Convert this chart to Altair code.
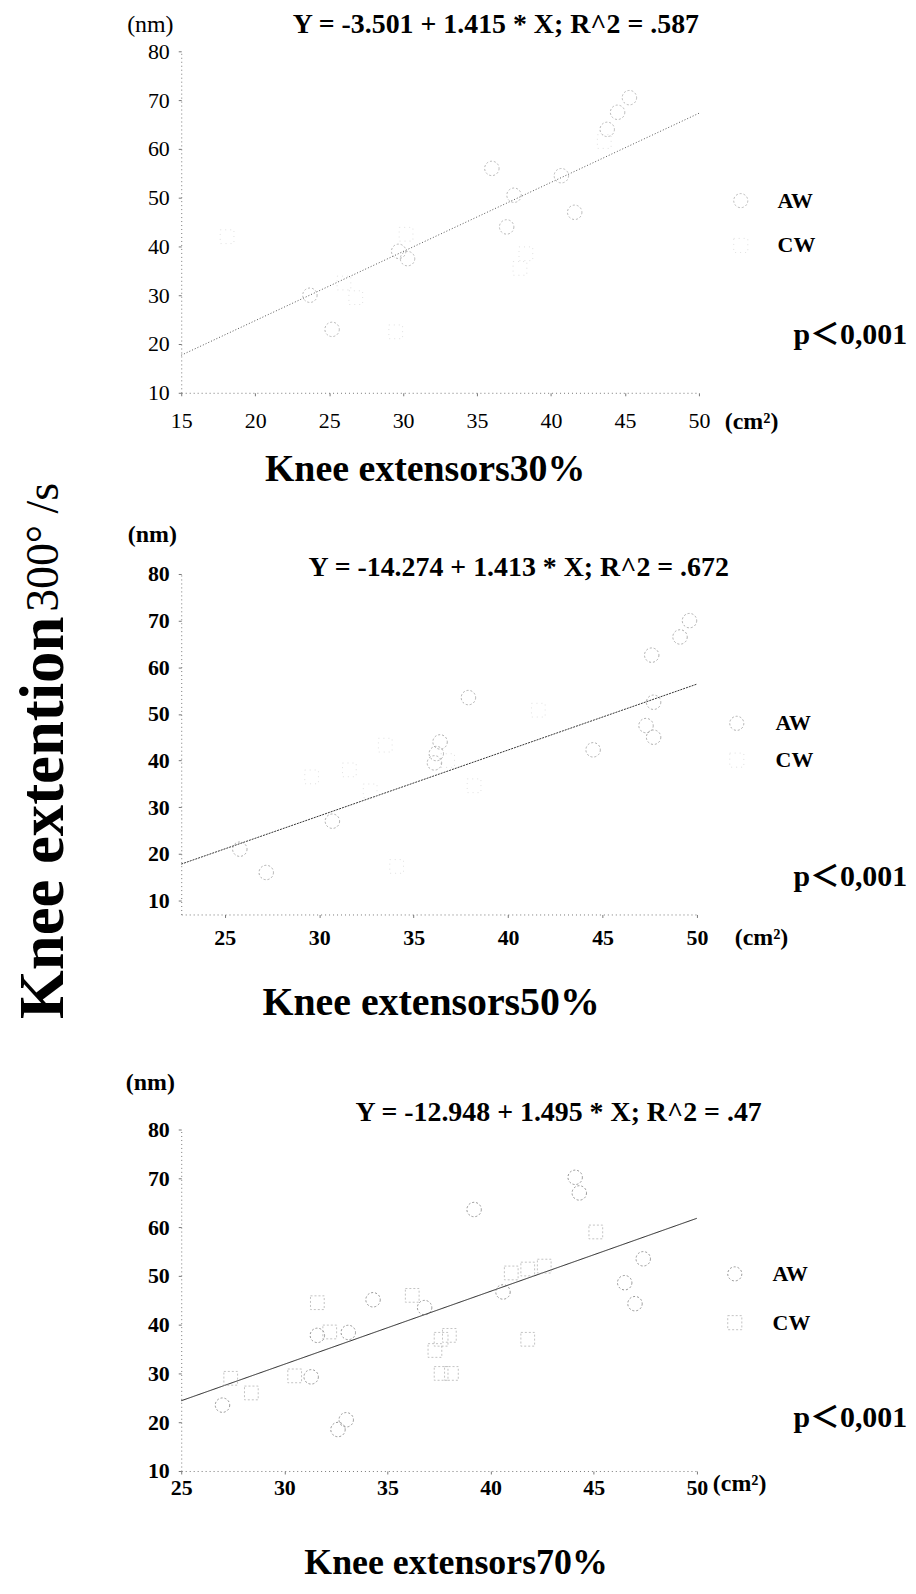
import altair as alt
import pandas as pd

# ---------------- data ----------------
# Panel 1: Knee extensors 30%
p1_aw_x = [25.2, 23.7, 29.7, 30.3, 36.0, 37.5, 37.0, 40.7, 41.6, 43.8, 44.5, 45.3]
p1_aw_y = [23.0, 30.0, 39.0, 37.5, 56.0, 50.5, 44.0, 54.5, 47.0, 64.0, 67.5, 70.5]
p1_cw_x = [18.1, 26.0, 29.5, 26.8, 30.2, 37.9, 38.3, 43.6]
p1_cw_y = [42.0, 32.5, 22.5, 29.5, 42.5, 35.5, 38.5, 61.5]
p1_line_x = [15.0, 50.0]
p1_line_y = [17.7, 67.3]

# Panel 2: Knee extensors 50%
p2_aw_x = [25.8, 27.2, 30.7, 36.2, 36.4, 36.1, 37.9, 44.5, 47.6, 47.7, 47.3, 47.7, 49.1, 49.6]
p2_aw_y = [21.0, 16.0, 27.0, 41.5, 44.0, 39.5, 53.5, 42.3, 62.6, 52.5, 47.5, 45.0, 66.5, 70.0]
p2_cw_x = [29.6, 31.6, 32.7, 33.5, 34.1, 38.2, 41.6, 36.8]
p2_cw_y = [36.5, 38.0, 33.5, 43.3, 17.3, 34.6, 50.8, 40.0]
p2_line_x = [22.7, 50.0]
p2_line_y = [17.8, 56.4]

# Panel 3: Knee extensors 70%
p3_aw_x = [27.0, 31.3, 32.6, 33.0, 31.6, 33.1, 34.3, 36.8, 39.2, 40.6, 44.1, 44.3, 47.4, 46.5, 47.0]
p3_aw_y = [23.5, 29.3, 18.5, 20.5, 37.8, 38.4, 45.1, 43.5, 63.6, 46.7, 70.2, 67.0, 53.5, 48.6, 44.3]
p3_cw_x = [27.4, 28.4, 30.5, 32.2, 31.6, 36.2, 37.3, 37.6, 37.6, 38.0, 38.1, 41.0, 41.8, 42.6, 41.8, 45.1]
p3_cw_y = [29.0, 26.0, 29.5, 38.5, 44.5, 46.0, 34.7, 30.0, 37.0, 37.8, 30.0, 50.6, 51.4, 52.0, 37.0, 59.0]
p3_line_x = [25.0, 50.0]
p3_line_y = [24.4, 61.8]

y_ticks = [10, 20, 30, 40, 50, 60, 70, 80]
x_ticks_1 = [15, 20, 25, 30, 35, 40, 45, 50]
x_ticks_23 = [25, 30, 35, 40, 45, 50]

equations = ["Y = -3.501 + 1.415 * X; R^2 = .587",
             "Y = -14.274 + 1.413 * X; R^2 = .672",
             "Y = -12.948 + 1.495 * X; R^2 = .47"]
x_titles = ["Knee extensors30%", "Knee extensors50%", "Knee extensors70%"]
groups = ["AW", "CW"]
p_text = "p＜0,001"
unit_y = "(nm)"
unit_x = "(cm²)"
y_title_main = "Knee extention"
y_title_tail = "300° /s"

SERIF = "Liberation Serif, Times New Roman, Noto Sans CJK JP, serif"
W = 520


def one(text, x, y, size, weight="bold", align="center", angle=0, color="black"):
    kw = dict(text=text, font=SERIF, fontSize=size, fontWeight=weight,
              align=align, baseline="middle", color=color)
    if angle:
        kw["angle"] = angle
    return alt.Chart(alt.Data(values=[{}])).mark_text(**kw).encode(
        x=alt.value(x), y=alt.value(y))


def sym(shape, x, y, color, dash):
    return alt.Chart(alt.Data(values=[{}])).mark_point(
        shape=shape, size=200, filled=False, color=color, strokeWidth=1,
        strokeDash=dash).encode(x=alt.value(x), y=alt.value(y))


def panel(aw_x, aw_y, cw_x, cw_y, lx, ly, xdom, ydom, xticks, height, cfg):
    weight = cfg["weight"]
    xs = alt.Scale(domain=xdom, nice=False, zero=False)
    ys = alt.Scale(domain=ydom, nice=False, zero=False)
    xax = alt.Axis(values=xticks, title=None, grid=False, labelFont=SERIF,
                   labelFontSize=22, labelFontWeight=weight, labelColor="black",
                   domainColor="#777", domainDash=[1, 3], tickColor="#777",
                   tickSize=3, labelPadding=cfg["xpad"], labelFlush=False,
                   labelOverlap=False, labelBound=False)
    yax = alt.Axis(values=y_ticks, title=None, grid=False, labelFont=SERIF,
                   labelFontSize=22, labelFontWeight=weight, labelColor="black",
                   domainColor="#777", domainDash=[1, 3], tickColor="#777",
                   tickSize=3, labelPadding=9, labelFlush=False,
                   labelOverlap=False, labelBound=False)
    aw = pd.DataFrame({"x": aw_x, "y": aw_y})
    cw = pd.DataFrame({"x": cw_x, "y": cw_y})
    ln = pd.DataFrame({"x": lx, "y": ly})

    line = alt.Chart(ln).mark_line(color=cfg["lcolor"], strokeWidth=1,
                                   strokeDash=cfg["ldash"]).encode(
        x=alt.X("x:Q", scale=xs, axis=xax), y=alt.Y("y:Q", scale=ys, axis=yax))
    cw_pts = alt.Chart(cw).mark_point(shape="square", size=190, filled=False,
                                      color=cfg["cwcolor"], strokeWidth=1,
                                      strokeDash=cfg["cwdash"]).encode(
        x=alt.X("x:Q", scale=xs), y=alt.Y("y:Q", scale=ys))
    aw_pts = alt.Chart(aw).mark_point(shape="circle", size=210, filled=False,
                                      color=cfg["awcolor"], strokeWidth=1,
                                      strokeDash=[2, 2]).encode(
        x=alt.X("x:Q", scale=xs), y=alt.Y("y:Q", scale=ys))

    t = cfg["t"]
    layers = [line, cw_pts, aw_pts,
              one(unit_y, t["nm"][0], t["nm"][1], 24, weight=weight),
              one(cfg["eq"], t["eq"][0], t["eq"][1], 28, weight="bold"),
              one(unit_x, t["cm"][0], t["cm"][1], 24, align="left"),
              one(cfg["xt"], t["xt"][0], t["xt"][1], cfg["xtsize"], weight="bold"),
              sym("circle", t["leg"][0], t["leg"][1], cfg["awcolor"], [2, 2]),
              sym("square", t["leg"][0], t["leg"][2], cfg["cwcolor"], cfg["cwdash"]),
              one(groups[0], t["leg"][3], t["leg"][1], 22, align="left"),
              one(groups[1], t["leg"][3], t["leg"][2], 22, align="left"),
              one(p_text, t["p"][0], t["p"][1], 30, align="left")]
    layers += cfg.get("extra", [])
    return alt.layer(*layers).properties(width=W, height=height)


p1 = panel(p1_aw_x, p1_aw_y, p1_cw_x, p1_cw_y, p1_line_x, p1_line_y,
           [15, 50], [10, 80], x_ticks_1, 343,
           dict(weight="normal", xpad=15, lcolor="#555", ldash=[1, 2],
                cwcolor="#d5d5d5", cwdash=[1, 4], awcolor="#999",
                eq=equations[0], xt=x_titles[0], xtsize=38,
                t=dict(nm=(-31, -26), eq=(316, -26), cm=(546, 372),
                       xt=(245, 421), leg=(562, 150, 195, 599), p=(615, 285))))

p2 = panel(p2_aw_x, p2_aw_y, p2_cw_x, p2_cw_y, p2_line_x, p2_line_y,
           [22.7, 50.1], [7, 80], x_ticks_23, 342,
           dict(weight="bold", xpad=10, lcolor="#333", ldash=[2, 1],
                cwcolor="#d5d5d5", cwdash=[1, 4], awcolor="#888",
                eq=equations[1], xt=x_titles[1], xtsize=40,
                t=dict(nm=(-29, -39), eq=(339, -6), cm=(556, 366),
                       xt=(251, 431), leg=(558, 150, 187, 597), p=(615, 304)),
                extra=[one(y_title_main, -138, 447, 63, weight="bold",
                           align="left", angle=270),
                       one(y_title_tail, -138, 38, 46, weight="normal",
                           align="left", angle=270)]))

p3 = panel(p3_aw_x, p3_aw_y, p3_cw_x, p3_cw_y, p3_line_x, p3_line_y,
           [25, 50.1], [10, 80], x_ticks_23, 343,
           dict(weight="bold", xpad=4, lcolor="#222", ldash=[1, 0],
                cwcolor="#aaa", cwdash=[2, 2], awcolor="#666",
                eq=equations[2], xt=x_titles[2], xtsize=36,
                t=dict(nm=(-31, -47), eq=(379, -17), cm=(534, 356),
                       xt=(276, 435), leg=(556, 145, 194, 594), p=(615, 290))))

inner = alt.vconcat(p2, p3, spacing=216, bounds="flush")
chart = alt.vconcat(p1, inner, spacing=182, bounds="flush").properties(
    padding={"left": 4, "top": 0, "right": 0, "bottom": 0},
    background="white",
).configure_view(stroke=None)

chart.save("out.html", embed_options={"renderer": "svg", "actions": False})
